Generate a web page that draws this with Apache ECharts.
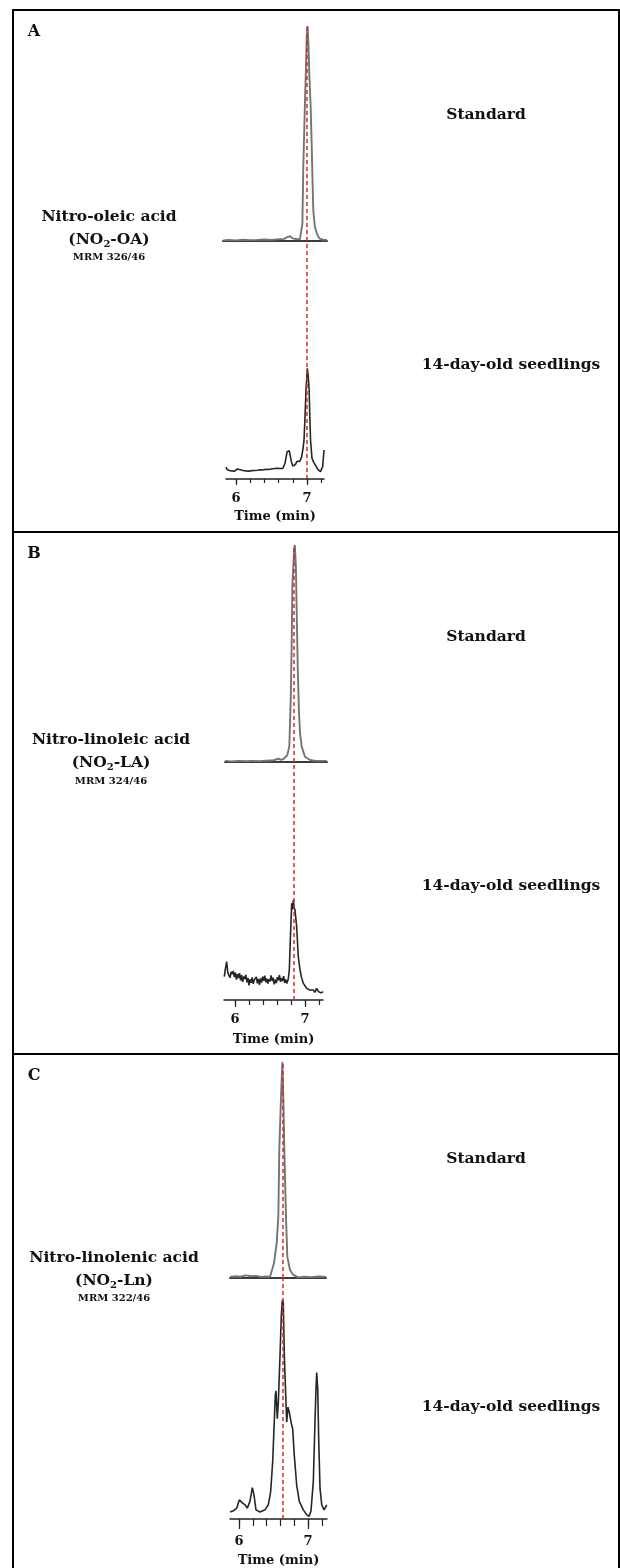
<!DOCTYPE html>
<html>
<head>
<meta charset="utf-8">
<script src="https://cdn.jsdelivr.net/npm/echarts@6/dist/echarts.min.js"></script>
<style>
  html, body { margin: 0; padding: 0; background: #fff; }
  #chart { width: 620px; height: 1568px; }
</style>
</head>
<body>
<div id="chart"></div>
<script>
// Panel letters, analytes and MRM transitions
const panelLetters = ['A', 'B', 'C'];
const analyteNames = ['Nitro-oleic acid', 'Nitro-linoleic acid', 'Nitro-linolenic acid'];
const analyteAbbrev = ['OA', 'LA', 'Ln'];
const mrmTransitions = ['MRM 326/46', 'MRM 324/46', 'MRM 322/46'];
const traceLabels = ['Standard', '14-day-old seedlings'];
const retentionTimes = [7.005, 6.845, 6.628];
const timeTicks = [6, 6.2, 6.4, 6.6, 6.8, 7, 7.2];
const timeTickLabels = [6, 7];
const axisTitle = 'Time (min)';

// Chromatograms: [retention time (min), relative intensity (%)]
const oaStandard = [
  [5.82, 0.3], [5.9, 0.5], [6.0, 0.3], [6.1, 0.6], [6.2, 0.4], [6.3, 0.5], [6.4, 0.7],
  [6.5, 0.5], [6.6, 0.8], [6.68, 1.0], [6.72, 1.8], [6.76, 2.2], [6.8, 1.2], [6.86, 0.8],
  [6.9, 0.9], [6.925, 1.5], [6.935, 8], [6.948, 34.6], [6.96, 50], [6.972, 65.6],
  [6.986, 81], [6.996, 95], [7.008, 100], [7.02, 92], [7.032, 78], [7.052, 62],
  [7.066, 45], [7.08, 25], [7.089, 14], [7.11, 7], [7.137, 3.7], [7.16, 2],
  [7.183, 1.0], [7.23, 0.6], [7.28, 0.5]
];
const oaSeedlings = [
  [5.86, 5.0], [5.875, 4.0], [5.89, 4.4], [5.905, 3.6], [5.92, 4.0], [5.94, 3.4],
  [5.96, 3.9], [5.98, 3.3], [6.0, 3.7], [6.02, 4.2], [6.04, 3.5], [6.06, 3.9],
  [6.08, 3.2], [6.1, 3.6], [6.12, 3.0], [6.14, 3.4], [6.16, 2.9], [6.18, 3.3],
  [6.2, 3.0], [6.22, 3.5], [6.24, 3.1], [6.26, 3.6], [6.28, 3.2], [6.3, 3.7],
  [6.32, 3.3], [6.34, 3.9], [6.36, 3.4], [6.38, 3.8], [6.4, 3.5], [6.42, 4.1],
  [6.44, 3.7], [6.46, 4.0], [6.48, 3.6], [6.5, 4.2], [6.52, 3.9], [6.54, 4.4],
  [6.56, 4.0], [6.58, 4.5], [6.6, 4.1], [6.62, 4.4], [6.64, 4.1], [6.66, 4.4],
  [6.69, 6.6], [6.72, 11.5], [6.75, 11.9], [6.78, 7.3], [6.8, 5.4], [6.82, 4.9],
  [6.84, 6.2], [6.855, 7.3], [6.87, 7.6], [6.88, 6.9], [6.9, 7.5], [6.925, 9.4],
  [6.945, 13], [6.958, 16.4], [6.972, 26], [6.986, 37.4], [7.005, 46.5], [7.018, 43],
  [7.03, 37.4], [7.04, 26], [7.05, 16.4], [7.07, 8.7], [7.09, 7.3], [7.11, 6.6],
  [7.135, 5.0], [7.16, 3.8], [7.19, 3.1], [7.21, 3.6], [7.22, 5.2], [7.24, 12.2]
];
const laStandard = [
  [5.86, 0.5], [5.95, 0.3], [6.05, 0.5], [6.15, 0.4], [6.25, 0.5], [6.35, 0.4],
  [6.45, 0.6], [6.55, 0.8], [6.62, 1.5], [6.66, 1.0], [6.7, 1.6], [6.747, 3.2],
  [6.776, 7.1], [6.796, 28.6], [6.81, 54.8], [6.819, 80.8], [6.833, 90], [6.847, 98.8],
  [6.855, 100], [6.87, 90], [6.881, 70], [6.896, 43.9], [6.914, 22.6], [6.93, 13],
  [6.953, 7.1], [7.0, 2.4], [7.071, 0.9], [7.15, 0.5], [7.31, 0.5]
];
const laSeedlings = [
  [5.847, 9.8], [5.862, 13], [5.881, 16.1], [5.895, 12], [5.91, 10.5], [5.919, 11.2],
  [5.93, 9.4], [5.945, 11.9], [5.96, 10.8], [5.975, 12.2], [5.99, 9.6], [6.005, 11.5],
  [6.02, 8.6], [6.035, 10.9], [6.05, 9.2], [6.065, 11.3], [6.08, 8.2], [6.095, 10.4],
  [6.11, 7.6], [6.125, 9.9], [6.14, 8.8], [6.155, 10.6], [6.17, 7.4], [6.185, 9.3],
  [6.2, 6.1], [6.215, 8.7], [6.23, 7.2], [6.245, 9.5], [6.26, 6.8], [6.275, 8.4],
  [6.29, 7.6], [6.305, 9.7], [6.32, 7.0], [6.335, 8.9], [6.35, 6.4], [6.365, 9.1],
  [6.38, 7.3], [6.395, 9.8], [6.41, 8.1], [6.425, 10.2], [6.44, 7.5], [6.455, 9.0],
  [6.47, 6.9], [6.485, 8.8], [6.5, 7.8], [6.515, 10.3], [6.53, 8.0], [6.545, 9.4],
  [6.56, 6.6], [6.575, 8.5], [6.59, 7.1], [6.605, 9.6], [6.62, 8.3], [6.635, 10.5],
  [6.65, 7.7], [6.665, 9.2], [6.68, 8.0], [6.695, 10.0], [6.71, 7.2], [6.725, 8.6],
  [6.74, 6.9], [6.761, 8.8], [6.776, 12.6], [6.79, 25], [6.81, 40.6], [6.822, 38],
  [6.833, 42], [6.845, 39], [6.857, 37.8], [6.881, 30.8], [6.904, 18.2], [6.929, 12.6],
  [6.95, 9.5], [6.976, 7.0], [7.0, 6.0], [7.024, 4.9], [7.05, 5.5], [7.07, 4.2],
  [7.09, 5.0], [7.119, 4.2], [7.14, 3.2], [7.167, 4.9], [7.19, 3.6], [7.21, 4.4],
  [7.23, 3.0], [7.261, 3.5]
];
const lnStandard = [
  [5.87, 0.5], [5.95, 0.8], [6.02, 0.6], [6.1, 1.2], [6.18, 0.8], [6.25, 1.0],
  [6.32, 0.5], [6.4, 0.7], [6.45, 0.6], [6.474, 0.8], [6.507, 6.8], [6.546, 16.1],
  [6.57, 28.4], [6.584, 59.3], [6.609, 83.9], [6.628, 100], [6.642, 83.9],
  [6.657, 59.3], [6.681, 28.4], [6.7, 9.9], [6.739, 3.7], [6.787, 1.4], [6.859, 0.3],
  [6.95, 0.6], [7.05, 0.4], [7.15, 0.7], [7.26, 0.5]
];
const lnSeedlings = [
  [5.87, 2.9], [5.917, 3.4], [5.967, 4.5], [6.004, 7.9], [6.029, 8.6], [6.054, 6.6],
  [6.087, 5.9], [6.12, 4.5], [6.159, 7.3], [6.193, 13.0], [6.217, 10.0], [6.246, 3.8],
  [6.304, 2.9], [6.377, 3.8], [6.425, 5.9], [6.459, 11.4], [6.488, 23.7], [6.507, 37.4],
  [6.526, 51.2], [6.536, 53.2], [6.555, 41.6], [6.57, 48.4], [6.594, 67.6],
  [6.613, 84.1], [6.628, 90.9], [6.642, 89.6], [6.657, 67.6], [6.677, 51.2],
  [6.691, 40.2], [6.71, 46.4], [6.729, 44.3], [6.754, 40.2], [6.778, 37.4],
  [6.801, 26.5], [6.836, 14.1], [6.874, 7.3], [6.932, 3.8], [6.981, 1.8], [7.014, 1.1],
  [7.043, 3.2], [7.077, 15.5], [7.101, 40.2], [7.116, 53.9], [7.126, 60.8],
  [7.141, 53.9], [7.155, 33.3], [7.174, 12.8], [7.199, 5.9], [7.232, 3.8],
  [7.261, 5.2], [7.271, 5.9]
];
const standardTraces = [oaStandard, laStandard, lnStandard];
const seedlingTraces = [oaSeedlings, laSeedlings, lnSeedlings];

// Page geometry of each panel (pixels)
const panels = [
  { top: 10, px6: 236, ppm: 71, stdTop: 26, stdBase: 241, sdlBase: 479,
    stdX: [223, 327], sdlX: [226, 324], nameX: 109, nameY: [217, 240, 257],
    stdLabelY: 115, sdlLabelY: 365, minorLen: 4, majorLen: 6, labelMargin: 13, nameGap: 31 },
  { top: 532, px6: 235, ppm: 70, stdTop: 545, stdBase: 762, sdlBase: 1000,
    stdX: [225, 327], sdlX: [224, 323], nameX: 111, nameY: [740, 763, 781],
    stdLabelY: 637, sdlLabelY: 886, minorLen: 5, majorLen: 7, labelMargin: 13, nameGap: 33 },
  { top: 1054, px6: 239, ppm: 69, stdTop: 1062, stdBase: 1278, sdlBase: 1521,
    stdX: [230, 326], sdlX: [230, 327], nameX: 114, nameY: [1258, 1281, 1298],
    stdLabelY: 1159, sdlLabelY: 1407, minorLen: 7, majorLen: 10, labelMargin: 16, nameGap: 35 }
];

const FONT = '"DejaVu Serif", "Liberation Serif", serif';
const INK = '#111';

const grid = [], xAxis = [], yAxis = [], series = [], graphic = [];

function timeAt(p, px) { return 6 + (px - p.px6) / p.ppm; }

function redLine(rt) {
  return {
    silent: true,
    symbol: ['none', 'none'],
    label: { show: false },
    lineStyle: { color: '#dd2626', type: [4, 3], width: 1.5 },
    data: [{ xAxis: rt }]
  };
}

panels.forEach((p, i) => {
  const gStd = grid.length;
  grid.push({ left: p.stdX[0], width: p.stdX[1] - p.stdX[0], top: p.stdTop,
              height: p.stdBase - p.stdTop, containLabel: false });
  const gSdl = grid.length;
  grid.push({ left: p.sdlX[0], width: p.sdlX[1] - p.sdlX[0], top: p.stdBase,
              height: p.sdlBase - p.stdBase, containLabel: false });

  // standard: baseline only
  const xStd = xAxis.length;
  xAxis.push({
    type: 'value', gridIndex: gStd,
    min: timeAt(p, p.stdX[0]), max: timeAt(p, p.stdX[1]),
    axisLine: { show: true, lineStyle: { color: '#3c3c3c', width: 2 } },
    axisTick: { show: false }, axisLabel: { show: false }, splitLine: { show: false }
  });
  // seedlings: time axis with minor ticks
  const xSdl = xAxis.length;
  xAxis.push({
    type: 'value', gridIndex: gSdl, position: 'bottom',
    min: timeAt(p, p.sdlX[0]), max: timeAt(p, p.sdlX[1]),
    axisLine: { show: true, lineStyle: { color: '#222', width: 1.5 } },
    axisTick: { show: true, customValues: timeTicks, length: p.minorLen,
                lineStyle: { color: '#222', width: 1.2 } },
    axisLabel: { show: false }, splitLine: { show: false }
  });
  // seedlings: labelled whole minutes
  xAxis.push({
    type: 'value', gridIndex: gSdl, position: 'bottom',
    min: timeAt(p, p.sdlX[0]), max: timeAt(p, p.sdlX[1]),
    axisLine: { show: false },
    axisTick: { show: true, customValues: timeTickLabels, length: p.majorLen,
                lineStyle: { color: '#222', width: 1.2 } },
    axisLabel: { show: true, customValues: timeTickLabels, margin: p.labelMargin,
                 fontFamily: FONT, fontWeight: 'bold', fontSize: 13, color: INK },
    name: axisTitle, nameLocation: 'middle', nameGap: p.nameGap,
    nameTextStyle: { fontFamily: FONT, fontWeight: 'bold', fontSize: 13, color: INK },
    splitLine: { show: false }
  });

  const yStd = yAxis.length;
  yAxis.push({ type: 'value', gridIndex: gStd, min: 0, max: 100, show: false });
  const ySdl = yAxis.length;
  yAxis.push({ type: 'value', gridIndex: gSdl, min: 0, max: 100, show: false });

  series.push({
    type: 'line', xAxisIndex: xStd, yAxisIndex: yStd, data: standardTraces[i],
    showSymbol: false, clip: false, z: 3,
    lineStyle: { color: '#747474', width: 1.9 },
    markLine: redLine(retentionTimes[i])
  });
  series.push({
    type: 'line', xAxisIndex: xSdl, yAxisIndex: ySdl, data: seedlingTraces[i],
    showSymbol: false, clip: false, z: 3,
    lineStyle: { color: '#262626', width: 1.6 },
    markLine: redLine(retentionTimes[i])
  });

  // panel letter
  graphic.push({ type: 'text', x: 34, y: p.top + 22, style: {
    text: panelLetters[i], fontFamily: FONT, fontWeight: 'bold', fontSize: 16,
    fill: INK, align: 'center', verticalAlign: 'middle' } });
  // analyte name block
  graphic.push({ type: 'text', x: p.nameX, y: p.nameY[0], style: {
    text: analyteNames[i], fontFamily: FONT, fontWeight: 'bold', fontSize: 15.5,
    fill: INK, align: 'center', verticalAlign: 'middle' } });
  graphic.push({ type: 'text', x: p.nameX, y: p.nameY[1], style: {
    text: '(NO{sub|2}-' + analyteAbbrev[i] + ')', fontFamily: FONT, fontWeight: 'bold',
    fontSize: 15.5, fill: INK, align: 'center', verticalAlign: 'middle',
    rich: { sub: { fontFamily: FONT, fontWeight: 'bold', fontSize: 10, fill: INK,
                   padding: [9, 0, 0, 0] } } } });
  graphic.push({ type: 'text', x: p.nameX, y: p.nameY[2], style: {
    text: mrmTransitions[i], fontFamily: FONT, fontWeight: 'bold', fontSize: 10,
    fill: INK, align: 'center', verticalAlign: 'middle' } });
  // trace labels
  graphic.push({ type: 'text', x: 486, y: p.stdLabelY, style: {
    text: traceLabels[0], fontFamily: FONT, fontWeight: 'bold', fontSize: 15.5,
    fill: INK, align: 'center', verticalAlign: 'middle' } });
  graphic.push({ type: 'text', x: 511, y: p.sdlLabelY, style: {
    text: traceLabels[1], fontFamily: FONT, fontWeight: 'bold', fontSize: 15.5,
    fill: INK, align: 'center', verticalAlign: 'middle' } });
});

// frame and panel separators
graphic.push({ type: 'rect', shape: { x: 13, y: 10, width: 606, height: 1580 },
  style: { fill: 'none', stroke: '#000', lineWidth: 2 }, z: 10 });
[panels[1].top, panels[2].top].forEach(y => {
  graphic.push({ type: 'line', shape: { x1: 13, y1: y, x2: 620, y2: y },
    style: { stroke: '#000', lineWidth: 2 }, z: 10 });
});

const chart = echarts.init(document.getElementById('chart'), null, { renderer: 'canvas' });
chart.setOption({
  animation: false,
  backgroundColor: '#fff',
  grid, xAxis, yAxis, series, graphic
});
</script>
</body>
</html>
